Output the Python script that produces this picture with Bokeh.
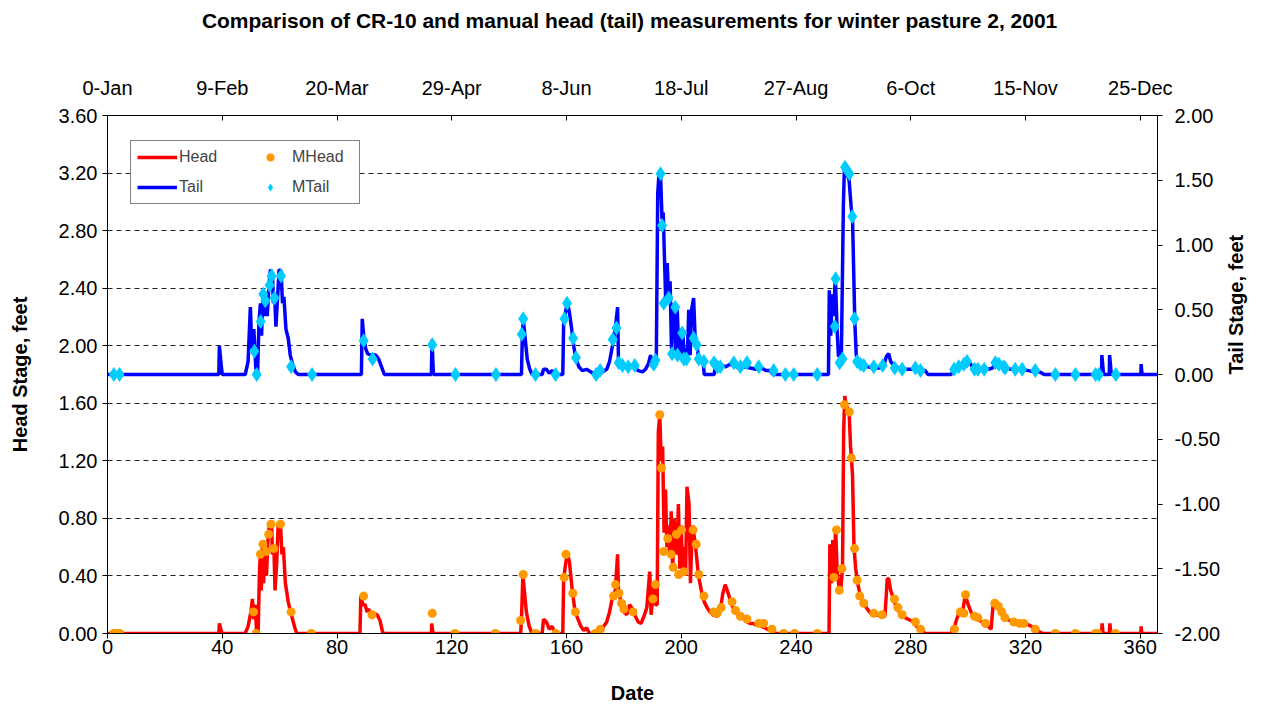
import math
from bokeh.plotting import figure
from bokeh.models import (Range1d, LinearAxis, FixedTicker, Legend, LegendItem,
                          PrintfTickFormatter)
from bokeh.embed import file_html
from bokeh.resources import INLINE

# ---------------- data (day of year, feet) ----------------
head_day = [0, 38.8, 39, 39.5, 40, 48, 49, 50, 50.5, 51, 51.5, 52, 52.5, 53, 53.3, 53.6, 54, 54.4, 55, 55.4,
            56, 56.5, 57.2, 57.5, 58, 58.4, 59, 59.5, 60.3, 60.8, 61.3, 62, 63, 63.8, 64.5, 65.3, 66,
            88, 88.3, 89, 89.8, 90.5, 91, 92, 93, 94, 95, 96, 112.9, 113, 113.5,
            144, 144.3, 144.8, 145.3, 146, 147, 148, 151.5, 152, 153, 154, 155, 156,
            158.7, 159, 159.8, 160.3, 161, 162, 163, 164, 165, 166, 167, 168, 171.5, 172, 173, 174,
            175, 176, 177, 177.8, 178.1, 179, 180, 181, 182, 183, 184, 185, 186, 187, 188, 189, 189.5,
            190.5, 191, 191.6, 192, 192.5, 193, 193.5, 194, 194.5, 195, 195.5, 196, 196.5, 197, 197.5,
            198, 198.5, 199, 199.5, 200, 200.5, 201, 201.5, 202, 202.7, 203.2, 203.6, 204, 205, 206,
            207, 208, 209, 210, 211, 212.5, 213.5, 214.5, 215.3, 216, 217, 218, 219, 220, 221, 222,
            223, 224, 225, 226, 227, 228, 229, 230, 231, 232, 233, 251.5, 251.8, 252.3, 252.8, 253.3,
            253.8, 254.3, 255, 255.5, 256.2, 256.6, 257, 257.5, 258.5, 259, 259.7, 260.2, 260.8, 261.5,
            262.5, 263.5, 264.5, 266, 268, 270, 271, 271.8, 272.3, 273, 274, 275, 276, 277, 278, 279,
            280, 281, 282, 283, 284, 285, 294, 295, 296, 297, 298, 299, 300, 301, 302, 303, 304, 305,
            306, 307, 308, 308.7, 309.5, 310.5, 311.5, 312.5, 313.5, 314.5, 316, 318, 320, 321, 322,
            323, 324, 325, 326, 346.5, 346.7, 347, 349.2, 349.4, 349.7, 360.2, 360.3, 360.5, 366]
head_val = [0, 0, 0.07, 0.03, 0, 0, 0.05, 0.15, 0.24, 0.1, 0.2, 0, 0, 0.45, 0.55, 0.3, 0.62, 0.35, 0.6, 0.4,
            0.68, 0.76, 0.76, 0.55, 0.6, 0.3, 0.5, 0.76, 0.76, 0.55, 0.6, 0.35, 0.22, 0.15, 0.1, 0.04, 0,
            0, 0.26, 0.2, 0.2, 0.15, 0.17, 0.13, 0.14, 0.13, 0.09, 0, 0, 0.07, 0,
            0, 0.1, 0.41, 0.3, 0.15, 0.05, 0, 0, 0.1, 0.08, 0.03, 0.05, 0,
            0, 0.38, 0.5, 0.55, 0.5, 0.3, 0.15, 0.1, 0.05, 0.02, 0.04, 0, 0, 0.03, 0.05, 0.08,
            0.15, 0.25, 0.3, 0.55, 0.3, 0.22, 0.15, 0.13, 0.2, 0.17, 0.12, 0.08, 0.07, 0.12, 0.18, 0.43, 0.13,
            0.35, 0.2, 0.2, 1.4, 1.52, 1.2, 1.3, 0.7, 1.0, 0.6, 0.75, 0.55, 0.85, 0.45, 0.8,
            0.6, 0.55, 0.9, 0.45, 0.75, 0.4, 0.6, 0.4, 1.02, 0.9, 0.35, 0.6, 0.75, 0.6, 0.4,
            0.3, 0.22, 0.18, 0.15, 0.13, 0.12, 0.15, 0.28, 0.34, 0.3, 0.24, 0.18, 0.15, 0.12, 0.11, 0.1,
            0.08, 0.07, 0.07, 0.06, 0.07, 0.05, 0.04, 0.03, 0.02, 0.02, 0, 0, 0.62, 0.35, 0.65, 0.4,
            0.74, 0.45, 0.32, 0.28, 0.45, 1.4, 1.65, 1.58, 1.55, 1.3, 1.1, 0.6, 0.45, 0.35,
            0.25, 0.22, 0.18, 0.14, 0.13, 0.12, 0.12, 0.38, 0.38, 0.3, 0.24, 0.18, 0.15, 0.13, 0.11, 0.1,
            0.09, 0.08, 0.05, 0.03, 0.02, 0, 0, 0.03, 0.1, 0.15, 0.14, 0.27, 0.2, 0.15, 0.12, 0.11, 0.09, 0.08,
            0.07, 0.05, 0.03, 0.2, 0.21, 0.19, 0.15, 0.12, 0.1, 0.09, 0.08, 0.07, 0.07, 0.06, 0.05,
            0.03, 0.02, 0.01, 0, 0, 0.07, 0, 0, 0.07, 0, 0, 0.05, 0, 0]

tail_day = [0, 38.8, 39, 39.5, 40, 48, 49, 49.8, 50.3, 51, 51.7, 52.3, 52.8, 53.3, 53.7, 54.2, 54.7, 55.2,
            55.7, 56.3, 56.8, 57.5, 57.8, 58.3, 58.7, 59.3, 59.8, 60.5, 61, 61.5, 62.2, 63, 63.7, 64.5,
            65.5, 66.5, 88.5, 88.8, 89.3, 90, 90.7, 92, 93.5, 94.5, 95.5, 96.5, 112.9, 113.1, 113.6,
            144.3, 144.6, 144.9, 145.5, 146.3, 147.2, 148, 151.5, 152, 153, 154, 155, 156,
            158.7, 159, 159.8, 160.3, 161, 161.8, 162.5, 163.3, 164.3, 165.5, 167, 168.5, 169.5,
            171.5, 172.5, 174, 175, 176, 177, 177.8, 178.1, 179, 180, 181, 182, 183, 184, 185, 186.5,
            187.5, 188.5, 189.3, 189.8, 190.5, 191.3, 191.8, 192.3, 192.8, 193.3, 193.7, 194.2, 194.6,
            195.1, 195.6, 196.1, 196.6, 197.1, 197.6, 198.1, 198.6, 199.1, 199.6, 200.1, 200.6, 201.1,
            201.6, 202.1, 202.6, 203.1, 203.6, 204.3, 204.8, 205.4, 206, 207, 207.7, 208, 211.5, 211.8,
            212.5, 214, 215.5, 217, 218.5, 220, 222, 224, 226, 228, 229.5, 231, 232, 251.3, 251.6,
            252.1, 252.6, 253.1, 253.7, 254.3, 254.8, 255.8, 256.5, 256.9, 257.5, 258.5, 259.2, 259.7,
            260.2, 260.5, 261, 261.8, 263, 265, 267, 269, 270.5, 271.5, 272.3, 273, 274.5, 276, 278,
            280, 282, 283.5, 285, 286, 294, 295, 296.5, 298, 299.3, 300.5, 301.5, 303, 305, 307, 308.5,
            309.5, 310.5, 312, 313.5, 315, 317, 319, 321, 323, 325, 326.5, 346.5, 346.6, 347.2, 349.2,
            349.3, 349.9, 360.2, 360.3, 360.6, 366]
tail_val = [0, 0, 0.22, 0.1, 0, 0, 0.1, 0.52, 0.2, 0.35, 0.05, 0, 0.4, 0.55, 0.3, 0.62, 0.45, 0.6,
            0.45, 0.7, 0.81, 0.78, 0.55, 0.6, 0.37, 0.6, 0.81, 0.8, 0.55, 0.6, 0.35, 0.28, 0.15, 0.08,
            0.02, 0, 0, 0.43, 0.3, 0.2, 0.16, 0.15, 0.15, 0.12, 0.06, 0, 0, 0.27, 0,
            0, 0.3, 0.43, 0.3, 0.12, 0.04, 0, 0, 0.04, 0.04, 0.01, 0.03, 0,
            0, 0.4, 0.5, 0.56, 0.48, 0.35, 0.22, 0.12, 0.06, 0.03, 0.04, 0.02, 0,
            0, 0.02, 0.04, 0.1, 0.22, 0.35, 0.52, 0.12, 0.08, 0.06, 0.05, 0.07, 0.06, 0.05, 0.03, 0.02,
            0.04, 0.08, 0.15, 0.06, 0.1, 0.12, 1.4, 1.57, 1.52, 1.2, 1.25, 0.86, 0.55,
            0.86, 0.58, 0.72, 0.2, 0.5, 0.55, 0.15, 0.5, 0.18, 0.35, 0.15, 0.3, 0.12,
            0.2, 0.12, 0.5, 0.15, 0.5, 0.59, 0.3, 0.23, 0.14, 0.1, 0.08, 0, 0, 0.06,
            0.09, 0.07, 0.06, 0.08, 0.07, 0.05, 0.06, 0.05, 0.04, 0.05, 0.03, 0.03, 0, 0, 0.65,
            0.3, 0.62, 0.45, 0.76, 0.35, 0.14, 0.14, 1.3, 1.63, 1.57, 1.5, 1.3, 1.2,
            0.7, 0.4, 0.15, 0.1, 0.07, 0.06, 0.05, 0.05, 0.06, 0.14, 0.16, 0.1, 0.06, 0.05, 0.04,
            0.04, 0.04, 0.03, 0.03, 0, 0, 0.03, 0.05, 0.08, 0.12, 0.09, 0.06, 0.05, 0.04, 0.04, 0.05,
            0.09, 0.08, 0.06, 0.05, 0.04, 0.04, 0.04, 0.03, 0.02, 0.02, 0, 0, 0.15, 0, 0,
            0.15, 0, 0, 0.08, 0, 0]

mhead_day = [2.2, 3.3, 4.3, 50.9, 51.8, 53.3, 54.2, 55.3, 56.2, 57.0, 58.0, 60.3, 64.0, 71.0, 89.3, 92.2,
             113.2, 121.1, 135.2, 144.0, 144.9, 149.2, 156.2, 159.2, 159.8, 162.2, 163.1, 170.0, 171.8,
             176.4, 177.1, 178.3, 179.2, 180.0, 183.2, 190.1, 191.0, 192.5, 193.1, 193.9, 195.3, 196.5,
             197.2, 198.3, 199.1, 200.1, 200.9, 204.1, 205.2, 206.1, 207.9, 211.3, 212.5, 213.9, 217.7,
             218.9, 220.6, 222.9, 227.0, 228.7, 231.6, 235.7, 239.5, 247.4, 253.2, 254.1, 255.1, 256.0,
             256.9, 258.6, 259.3, 260.4, 261.3, 262.2, 263.6, 267.1, 270.0, 274.3, 275.5, 277.0, 281.6,
             283.4, 295.2, 297.3, 298.5, 299.1, 302.2, 303.4, 306.0, 309.3, 310.5, 311.7, 312.8, 315.9,
             317.9, 319.4, 323.4, 330.4, 337.4, 344.4, 345.2, 351.3]
mhead_val = [0, 0, 0, 0.15, 0, 0.55, 0.62, 0.57, 0.69, 0.76, 0.59, 0.76, 0.15, 0, 0.26, 0.13,
             0.14, 0, 0, 0.09, 0.41, 0, 0, 0.39, 0.55, 0.28, 0.15, 0, 0.03,
             0.26, 0.34, 0.28, 0.21, 0.17, 0.15, 0.24, 0.34, 1.52, 1.15, 0.57, 0.66, 0.55,
             0.46, 0.69, 0.41, 0.72, 0.43, 0.72, 0.62, 0.41, 0.26, 0.15, 0.14, 0.18, 0.22,
             0.16, 0.12, 0.10, 0.07, 0.07, 0.03, 0, 0, 0, 0.39, 0.72, 0.30, 0.45,
             1.59, 1.54, 1.22, 0.59, 0.37, 0.26, 0.21, 0.14, 0.13, 0.24, 0.18, 0.13, 0.08,
             0.03, 0.03, 0.15, 0.14, 0.27, 0.12, 0.11, 0.07, 0.21, 0.19, 0.15, 0.11, 0.08,
             0.07, 0.07, 0.03, 0, 0, 0, 0, 0]

mtail_day = [2.2, 4.2, 51.2, 52.0, 53.4, 54.3, 55.0, 56.5, 57.2, 58.2, 60.5, 64.0, 71.3, 89.3, 92.4,
             113.2, 121.3, 135.4, 144.4, 144.9, 149.2, 156.2, 159.3, 160.2, 162.3, 163.3, 170.3, 171.7,
             176.1, 177.4, 178.2, 179.5, 181.5, 183.8, 190.4, 191.0, 192.8, 193.3, 193.9, 195.6, 196.8,
             197.9, 198.7, 200.3, 200.9, 201.8, 204.3, 205.4, 206.1, 207.9, 211.4, 212.6, 213.6, 218.3,
             220.6, 222.9, 227.0, 232.2, 236.3, 239.2, 247.4, 253.5, 253.8, 255.2, 256.2, 257.1, 258.6,
             259.6, 260.4, 261.3, 262.5, 263.6, 267.1, 270.2, 274.4, 277.0, 281.6, 283.4, 295.1, 296.7,
             298.5, 299.6, 302.2, 303.4, 305.6, 309.5, 310.7, 312.4, 312.9, 316.4, 318.8, 323.4, 330.4,
             337.4, 344.4, 345.6, 351.5]
mtail_val = [0, 0, 0.18, 0, 0.41, 0.62, 0.57, 0.69, 0.76, 0.59, 0.76, 0.06, 0, 0.26, 0.12,
             0.23, 0, 0, 0.31, 0.43, 0, 0, 0.43, 0.55, 0.28, 0.13, 0, 0.03,
             0.27, 0.36, 0.09, 0.07, 0.06, 0.07, 0.08, 0.11, 1.55, 1.15, 0.55, 0.59, 0.16,
             0.52, 0.15, 0.32, 0.12, 0.12, 0.28, 0.23, 0.12, 0.1, 0.09, 0.06, 0.06, 0.09,
             0.06, 0.09, 0.06, 0.03, 0, 0, 0, 0.37, 0.74, 0.09, 0.12, 1.6, 1.55,
             1.22, 0.43, 0.1, 0.08, 0.07, 0.06, 0.07, 0.05, 0.04, 0.05, 0.03, 0.04, 0.06,
             0.08, 0.1, 0.04, 0.04, 0.04, 0.09, 0.08, 0.06, 0.05, 0.04, 0.04, 0.03, 0,
             0, 0, 0, 0]

bottom_ticks = [0, 40, 80, 120, 160, 200, 240, 280, 320, 360]
top_labels = ["0-Jan", "9-Feb", "20-Mar", "29-Apr", "8-Jun", "18-Jul", "27-Aug", "6-Oct", "15-Nov", "25-Dec"]
head_ticks = [0, 0.4, 0.8, 1.2, 1.6, 2.0, 2.4, 2.8, 3.2, 3.6]
tail_ticks = [-2.0, -1.5, -1.0, -0.5, 0.0, 0.5, 1.0, 1.5, 2.0]
title_text = "Comparison of CR-10 and manual head (tail) measurements  for winter pasture 2, 2001"

FONT = "Liberation Sans"
TICK_PX = "20px"
LABEL_PX = "20px"

p = figure(width=1261, height=706, output_backend="svg", toolbar_location=None,
           x_range=Range1d(0, 366), y_range=Range1d(0, 3.6),
           min_border_left=107, min_border_right=103, min_border_top=115, min_border_bottom=73,
           background_fill_color="white", border_fill_color="white")
p.extra_y_ranges = {"tail": Range1d(-2, 2)}
p.outline_line_color = "black"


def style_axis(ax):
    ax.axis_line_color = "black"
    ax.axis_line_width = 1
    ax.major_tick_line_color = "black"
    ax.minor_tick_line_color = None
    ax.major_tick_out = 5
    ax.major_tick_in = 0
    ax.major_label_text_font = FONT
    ax.major_label_text_font_size = TICK_PX
    ax.major_label_text_color = "black"
    ax.axis_label_text_font = FONT
    ax.axis_label_text_font_size = LABEL_PX
    ax.axis_label_text_font_style = "bold"
    ax.axis_label_text_color = "black"


xa = p.xaxis[0]
style_axis(xa)
xa.ticker = FixedTicker(ticks=bottom_ticks)
xa.axis_label = "Date"
xa.major_label_standoff = 1
xa.axis_label_standoff = 25

ya = p.yaxis[0]
style_axis(ya)
ya.ticker = FixedTicker(ticks=head_ticks)
ya.formatter = PrintfTickFormatter(format="%.2f")
ya.axis_label = "Head Stage, feet"
ya.major_label_standoff = 5
ya.axis_label_standoff = 25

ra = LinearAxis(y_range_name="tail", ticker=FixedTicker(ticks=tail_ticks),
                formatter=PrintfTickFormatter(format="%.2f"), axis_label="Tail Stage, feet")
style_axis(ra)
ra.major_label_standoff = 12
ra.axis_label_standoff = 13
if "axis_label_orientation" in ra.properties():
    ra.axis_label_orientation = math.pi / 2
p.add_layout(ra, "right")

# top date axis; the chart title sits above it as this axis' label
ta = LinearAxis(ticker=FixedTicker(ticks=bottom_ticks),
                major_label_overrides={t: l for t, l in zip(bottom_ticks, top_labels)},
                axis_label=title_text)
style_axis(ta)
ta.major_tick_in = 5
ta.major_tick_out = 0
ta.major_label_standoff = 17
ta.axis_label_text_font_size = "21px"
ta.axis_label_standoff = 42
p.add_layout(ta, "above")

p.xgrid.visible = False
p.ygrid.ticker = FixedTicker(ticks=head_ticks[1:-1])
p.ygrid.grid_line_color = "#222222"
p.ygrid.grid_line_dash = "5 4"
p.ygrid.grid_line_width = 1

r_head = p.line(head_day, head_val, line_color="#FF0000", line_width=3.5)
r_tail = p.line(tail_day, tail_val, line_color="#0000FF", line_width=3.5, y_range_name="tail")
r_mhead = p.scatter(mhead_day, mhead_val, marker="circle", size=9,
                    fill_color="#FF9900", line_color=None)
r_mtail = p.scatter(mtail_day, mtail_val, marker="diamond", size=15,
                    fill_color="#00CCFF", line_color=None, y_range_name="tail")

legend = Legend(items=[LegendItem(label="Head", renderers=[r_head]),
                       LegendItem(label="Tail", renderers=[r_tail]),
                       LegendItem(label="MHead", renderers=[r_mhead]),
                       LegendItem(label="MTail", renderers=[r_mtail])],
                location=(23, 429), nrows=2, orientation="vertical",
                border_line_color="black", border_line_width=1,
                background_fill_color="white", background_fill_alpha=1,
                label_text_font=FONT, label_text_font_size="16px",
                glyph_width=40, glyph_height=20, label_width=61, label_standoff=2,
                padding=6, spacing=10, margin=0)
p.add_layout(legend)

open("out.html", "w").write(file_html(p, INLINE))
